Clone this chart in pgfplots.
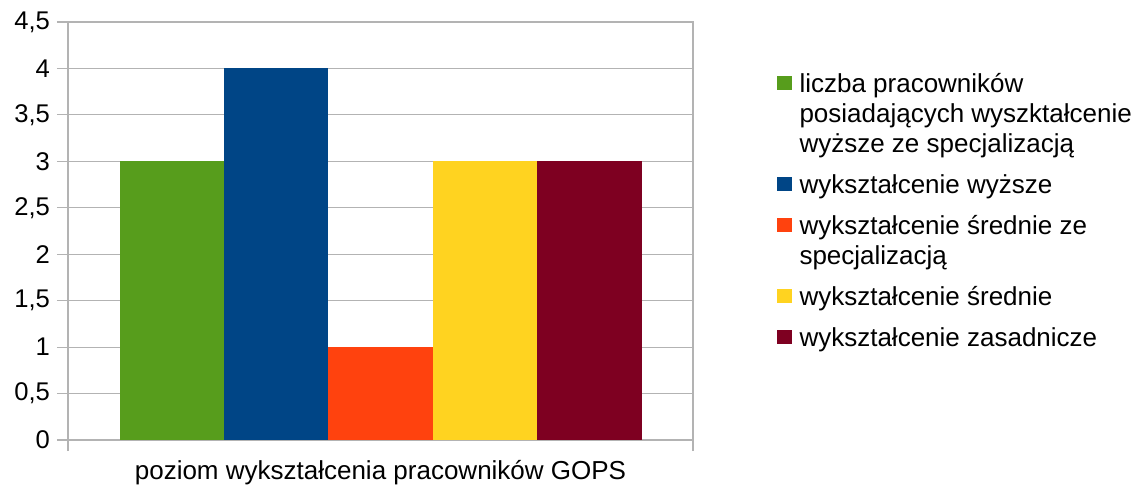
\documentclass[border=0pt]{standalone}
\usepackage{fontspec}
\setmainfont{Liberation Sans}
\usepackage{pgfplots}
\pgfplotsset{compat=1.18}
\definecolor{cA}{HTML}{579D1C}
\definecolor{cB}{HTML}{004586}
\definecolor{cC}{HTML}{FF420E}
\definecolor{cD}{HTML}{FFD320}
\definecolor{cE}{HTML}{7E0021}
\definecolor{gridgray}{HTML}{B3B3B3}
\newcommand{\first}{\rule[-3bp]{0pt}{14bp}}
\newcommand{\cont}{\rule[-3bp]{0pt}{16.5bp}}
\newcommand{\entry}{\rule[-3bp]{0pt}{22bp}}
\begin{document}
\begin{tikzpicture}[font=\fontsize{13bp}{15.5bp}\selectfont]
\useasboundingbox (-34bp,-24bp) rectangle (536.5bp,220bp);
\begin{axis}[
  at={(0,0)}, anchor=south west,
  scale only axis, width=312.5bp, height=209bp,
  xmin=-0.5, xmax=0.5, ymin=0, ymax=4.5,
  ybar=0pt, bar width=52.2bp,
  ytick={0,0.5,1,1.5,2,2.5,3,3.5,4,4.5},
  yticklabel style={/pgf/number format/use comma, /pgf/number format/assume math mode=true, font=\fontsize{12.8bp}{14bp}\selectfont},
  xtick={-0.5,0.5}, xticklabels={},
  ymajorgrids, grid style={color=gridgray, line width=0.6bp},
  axis line style={color=gridgray, line width=0.6bp},
  tick style={color=gridgray, line width=0.6bp},
  tick align=outside, major tick length=5.5bp,
  xtick pos=bottom, ytick pos=left,
  xlabel={poziom wykształcenia pracowników GOPS},
  xlabel style={at={(axis description cs:0.5,0)}, anchor=base, yshift=-19.5bp, inner sep=0pt},
  legend style={at={(axis description cs:1.133,0.885)}, anchor=north west, draw=none, fill=none, inner sep=0pt, row sep=0pt,
    cells={anchor=base west}, nodes={inner sep=0pt}},
  legend image code/.code={\fill[#1,draw=none] (0bp,1bp) rectangle (7.5bp,8bp);\path[fill=none,draw=none] (0bp,0bp) rectangle (11.5bp,1bp);},
]
\addplot[fill=cA, draw=none] coordinates {(0,3)};
\addlegendentry{\first liczba pracowników}
\addlegendimage{empty legend}
\addlegendentry{\cont posiadających wyszktałcenie}
\addlegendimage{empty legend}
\addlegendentry{\cont wyższe ze specjalizacją}
\addplot[fill=cB, draw=none] coordinates {(0,4)};
\addlegendentry{\entry wykształcenie wyższe}
\addplot[fill=cC, draw=none] coordinates {(0,1)};
\addlegendentry{\entry wykształcenie średnie ze}
\addlegendimage{empty legend}
\addlegendentry{\cont specjalizacją}
\addplot[fill=cD, draw=none] coordinates {(0,3)};
\addlegendentry{\entry wykształcenie średnie}
\addplot[fill=cE, draw=none] coordinates {(0,3)};
\addlegendentry{\entry wykształcenie zasadnicze}
\end{axis}
\end{tikzpicture}
\end{document}
